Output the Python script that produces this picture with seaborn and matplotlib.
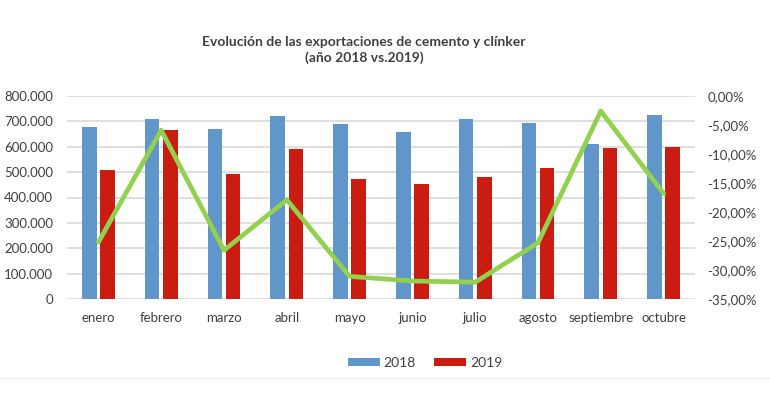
import numpy as np
import pandas as pd
import matplotlib
matplotlib.use("Agg")
import matplotlib.pyplot as plt
import matplotlib.ticker as mticker
from matplotlib.patches import Patch
import seaborn as sns

meses = ["enero", "febrero", "marzo", "abril", "mayo", "junio", "julio",
         "agosto", "septiembre", "octubre"]
v2018 = [679000, 708000, 669000, 722000, 690000, 659000, 708000, 692000, 611000, 725000]
v2019 = [510000, 666000, 493000, 591000, 474000, 452000, 480000, 515000, 594000, 600000]
variacion = [-25.2, -5.9, -26.6, -17.9, -31.1, -31.9, -32.1, -25.3, -2.6, -16.8]

sns.set_theme(style="white")
plt.rcParams["font.family"] = ["Lato", "DejaVu Sans"]

df = pd.DataFrame({
    "mes": meses * 2,
    "valor": v2018 + v2019,
    "anio": ["2018"] * len(meses) + ["2019"] * len(meses),
})
dfl = pd.DataFrame({"mes": meses, "var": variacion})

c_blue = "#6096C9"
c_red = "#CB1C12"
c_green = "#92D050"

fig = plt.figure(figsize=(7.7, 3.99), dpi=100)
ax = fig.add_axes([67 / 770, 1 - 299 / 399, (695 - 67) / 770, (299 - 96) / 399])

sns.barplot(data=df, x="mes", y="valor", hue="anio", order=meses,
            palette=[c_blue, c_red], width=0.58, gap=0.2, ax=ax,
            legend=False, saturation=1, edgecolor="none")

ax.set_ylim(0, 800000)
ax.set_yticks(np.arange(0, 800001, 100000))
ax.yaxis.set_major_formatter(mticker.FuncFormatter(
    lambda v, p: f"{int(v):,}".replace(",", ".")))
ax.grid(axis="y", color="#D9D9D9", linewidth=1.2)
ax.set_axisbelow(True)
for s in ax.spines.values():
    s.set_visible(False)
ax.set_xlabel("")
ax.set_ylabel("")
ax.tick_params(axis="both", length=0, labelsize=9.5, colors="#404040")
ax.tick_params(axis="x", pad=9)
ax.tick_params(axis="y", pad=10)
ax.set_xlim(-0.5, len(meses) - 0.5)

ax2 = ax.twinx()
sns.lineplot(data=dfl, x="mes", y="var", sort=False, color=c_green,
             linewidth=3.4, ax=ax2)
ax2.set_ylim(-35, 0)
ax2.set_yticks(np.arange(-35, 0.1, 5))
ax2.yaxis.set_major_formatter(mticker.FuncFormatter(
    lambda v, p: f"{v:.2f}%".replace(".", ",").replace("-0,00", "0,00")))
for s in ax2.spines.values():
    s.set_visible(False)
ax2.set_ylabel("")
ax2.set_xlabel("")
ax2.tick_params(axis="y", length=0, labelsize=9.5, colors="#404040", pad=9)
ax2.set_xlim(-0.5, len(meses) - 0.5)

fig.text(364 / 770, 1 - 42 / 399, "Evolución de las exportaciones de cemento y clínker",
         ha="center", va="center", fontsize=10, fontweight="bold", color="#404040")
fig.text(364 / 770, 1 - 58 / 399, "(año 2018 vs.2019)",
         ha="center", va="center", fontsize=10, fontweight="bold", color="#404040")

handles = [Patch(facecolor=c_blue, edgecolor="none", label="2018"),
           Patch(facecolor=c_red, edgecolor="none", label="2019")]
fig.legend(handles=handles, loc="center", bbox_to_anchor=(425 / 770, 1 - 363 / 399),
           ncol=2, frameon=False, fontsize=10, handlelength=2.3, handleheight=0.55,
           handletextpad=0.3, columnspacing=1.3, labelcolor="#404040")

fig.add_artist(plt.Line2D([0, 1], [1 - 378 / 399] * 2, color="#F2F2F2",
                          linewidth=1, transform=fig.transFigure))

fig.savefig("out.png", dpi=100)
